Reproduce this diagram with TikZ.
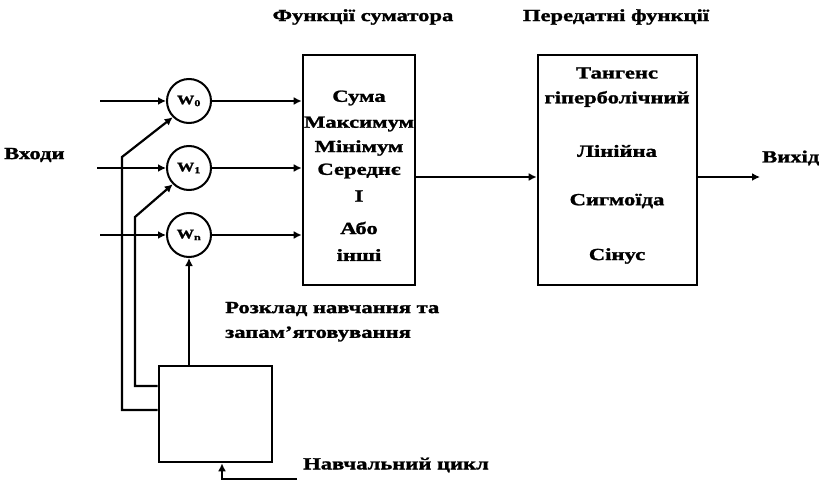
\documentclass[tikz,border=0pt]{standalone}
\usepackage{fontspec}
\setmainfont{Liberation Serif}[FakeStretch=1.33, BoldFeatures={FakeBold=1.5}]
\usetikzlibrary{arrows.meta}
\begin{document}
\begin{tikzpicture}[x=1pt,y=-1pt,
  every node/.style={font=\bfseries\fontsize{17}{25}\selectfont, inner sep=0pt},
  conn/.style={line width=2.2pt},
  arr/.style={conn, -{Latex[length=8pt,width=8pt]}},
  blk/.style={draw, line width=2.6pt},
  wcirc/.style={draw, circle, line width=2pt, minimum size=44pt, font=\bfseries\fontsize{13}{13}\selectfont},
  lbl/.style={align=center}]
\useasboundingbox (0,0) rectangle (819,481);
% titles
\node[lbl] (t1) at (363,17) {Функції суматора};
\node[lbl] (t2) at (616,17) {Передатні функції};
\node[anchor=west] (inl) at (4,155) {Входи};
\node[anchor=west] (outl) at (762,158) {Вихід};
% boxes
\node[blk, minimum width=112pt, minimum height=230pt] (sum) at (359,170) {};
\node[blk, minimum width=159pt, minimum height=230pt] (trans) at (617.5,170) {};
\node[blk, minimum width=113pt, minimum height=96pt] (learn) at (215.5,414) {};
% summator texts
\node (s1) at (359,98) {Сума};
\node (s2) at (359,124) {Максимум};
\node (s3) at (359,148) {Мінімум};
\node (s4) at (359,171) {Середнє};
\node (s5) at (359,196) {І};
\node (s6) at (359,228) {Або};
\node (s7) at (359,255) {інші};
% transfer texts
\node (f1) at (617,73) {Тангенс};
\node (f2) at (617,99) {гіперболічний};
\node (f3) at (617,151) {Лінійна};
\node (f4) at (617,201) {Сигмоїда};
\node (f5) at (617,256) {Сінус};
% weights
\node[wcirc] (w0) at (189,101) {W\textsubscript{0}};
\node[wcirc] (w1) at (189,168) {W\textsubscript{1}};
\node[wcirc] (wn) at (189,235) {W\textsubscript{n}};
% labels
\node[anchor=west] (sched1) at (225,309) {Розклад навчання та};
\node[anchor=west] (sched2) at (225,334) {запам'ятовування};
\node[anchor=west] (cyc) at (303,465) {Навчальний цикл};
% coordinates
\coordinate (i0) at (100,101);
\coordinate (i1) at (97,168);
\coordinate (in) at (100,235);
\coordinate (o) at (760,177);
\coordinate (cs) at (297,479);
% inputs
\draw[arr] (i0) -- (w0.west);
\draw[arr] (i1) -- (w1.west);
\draw[arr] (in) -- (wn.west);
% to summator
\draw[arr] (w0.east) -- (w0.east -| sum.west);
\draw[arr] (w1.east) -- (w1.east -| sum.west);
\draw[arr] (wn.east) -- (wn.east -| sum.west);
% summator to transfer
\draw[arr] (sum.east |- o) -- (trans.west |- o);
\draw[arr] (trans.east |- o) -- (o);
% learning feedback
\draw[arr] (wn.south |- learn.north) -- (wn.south);
\draw[arr] (learn.west |- 0,410) -- (122,410) -- (122,157) -- (w0.225);
\draw[arr] (learn.west |- 0,386) -- (135,386) -- (135,217) -- (w1.225);
\draw[arr] (cs) -- (222,479) -- (learn.south -| 222,0);
\end{tikzpicture}
\end{document}
